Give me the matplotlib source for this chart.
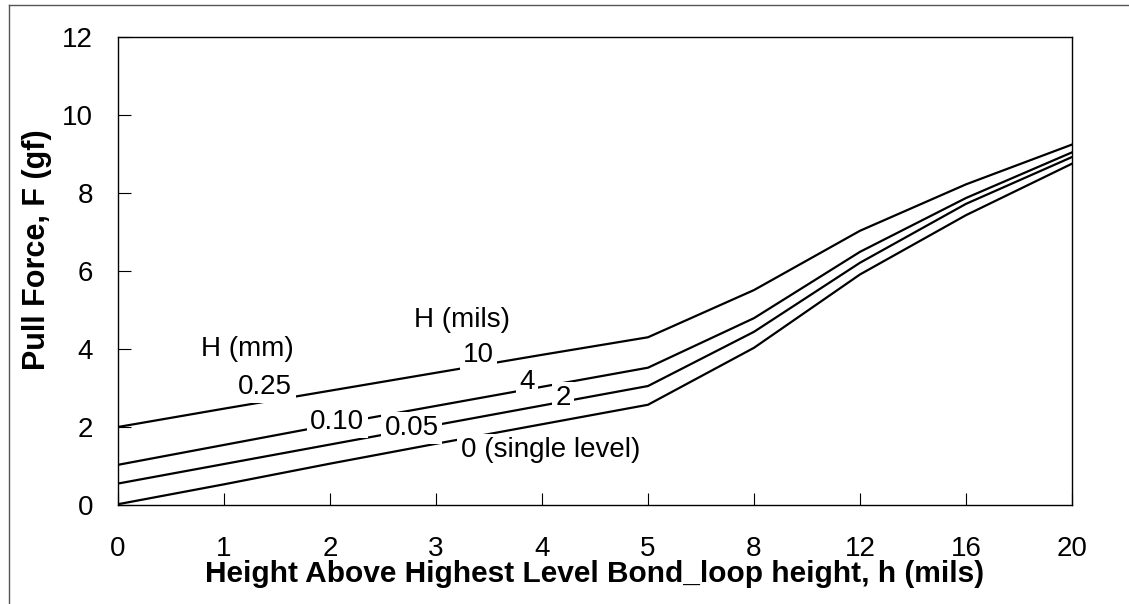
import numpy as np
import matplotlib
matplotlib.use("Agg")
import matplotlib.pyplot as plt
from matplotlib.lines import Line2D

plt.rcParams['font.family'] = ['Liberation Sans', 'DejaVu Sans']

# bond loop height h (mils), plotted as evenly spaced categories
h_labels = ["0", "1", "2", "3", "4", "5", "8", "12", "16", "20"]

# pull force (gf) for each level height H
f_025 = [2.0, 2.47, 2.93, 3.39, 3.85, 4.3, 5.51, 7.03, 8.22, 9.24]
f_010 = [1.03, 1.54, 2.05, 2.54, 3.03, 3.52, 4.79, 6.49, 7.87, 9.04]
f_005 = [0.55, 1.05, 1.55, 2.05, 2.55, 3.05, 4.44, 6.21, 7.72, 8.92]
f_000 = [0.02, 0.53, 1.06, 1.57, 2.07, 2.57, 4.03, 5.91, 7.43, 8.75]

series = [f_025, f_010, f_005, f_000]

# inline curve labels: (text, category x, y)
curve_labels = [
    ("H (mm)", 1.22, 4.0),
    ("0.25", 1.39, 3.03),
    ("H (mils)", 3.25, 4.74),
    ("10", 3.4, 3.85),
    ("4", 3.86, 3.15),
    ("2", 4.2, 2.74),
    ("0.10", 2.07, 2.13),
    ("0.05", 2.77, 1.97),
    ("0 (single level)", 4.08, 1.41),
]

fig = plt.figure(figsize=(11.29, 6.04), dpi=100)
ax = fig.add_axes([0.1045, 0.1639, 0.845, 0.775])

x = np.arange(len(h_labels))
for f in series:
    ax.plot(x, f, color='black', lw=1.6, zorder=2)

for txt, tx, ty in curve_labels:
    ax.text(tx, ty, txt, ha='center', va='center', fontsize=20, zorder=3,
            bbox=dict(facecolor='white', edgecolor='none', pad=2.5))

ax.set_xlim(0, len(h_labels) - 1)
ax.set_ylim(0, 12)
ax.set_xticks(x)
ax.set_xticklabels(h_labels)
ax.set_yticks(np.arange(0, 13, 2))
ax.tick_params(direction='in', length=9, width=0.8, labelsize=20)
ax.tick_params(axis='x', pad=22)
ax.tick_params(axis='y', pad=18)

ax.set_xlabel("Height Above Highest Level Bond_loop height, h (mils)",
              fontsize=21.5, fontweight='bold', labelpad=-1)
ax.set_ylabel("Pull Force, F (gf)", fontsize=22, fontweight='bold')
ax.yaxis.set_label_coords(-0.069, 0.545)

for s in ax.spines.values():
    s.set_linewidth(1.0)

# outer frame of the original picture
fig.add_artist(Line2D([0.008, 0.008], [0.0, 0.992], transform=fig.transFigure,
                      color='#555555', lw=1.0))
fig.add_artist(Line2D([0.008, 1.0], [0.992, 0.992], transform=fig.transFigure,
                      color='#555555', lw=1.0))

fig.savefig("out.png", dpi=100)
